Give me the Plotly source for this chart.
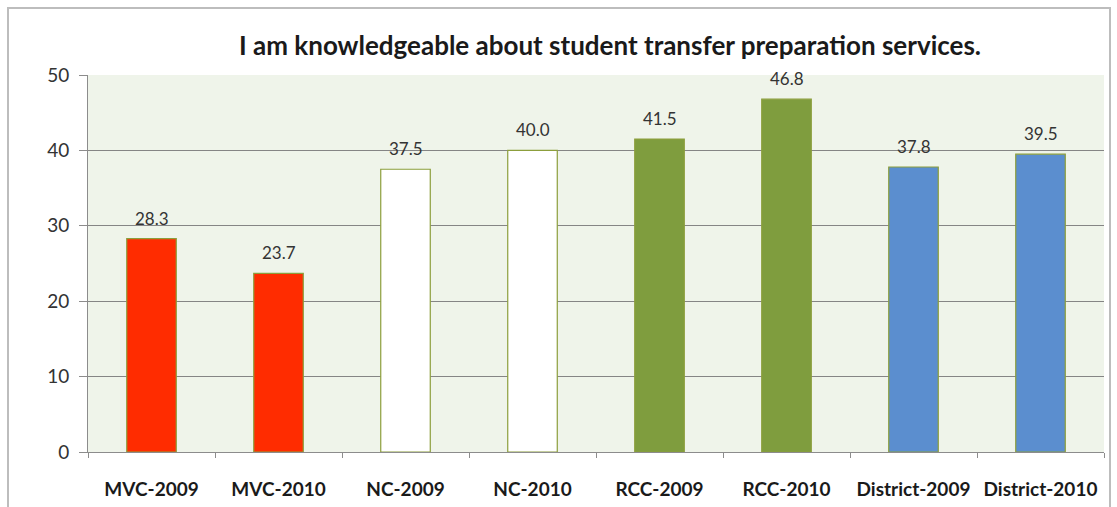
import plotly.graph_objects as go

# Survey results: share of respondents agreeing with the statement
categories = ["MVC-2009", "MVC-2010", "NC-2009", "NC-2010",
              "RCC-2009", "RCC-2010", "District-2009", "District-2010"]
values = [28.3, 23.7, 37.5, 40.0, 41.5, 46.8, 37.8, 39.5]
labels = ["28.3", "23.7", "37.5", "40.0", "41.5", "46.8", "37.8", "39.5"]
bar_colors = ["#FF2C00", "#FF2C00", "#FFFFFF", "#FFFFFF",
              "#7F9D3E", "#7F9D3E", "#5B8ECF", "#5B8ECF"]
title_text = "I am knowledgeable about student transfer preparation services."
y_ticks = [0, 10, 20, 30, 40, 50]

FONT = "Lato, Open Sans, sans-serif"

fig = go.Figure()
fig.add_trace(go.Bar(
    x=categories,
    y=values,
    marker=dict(color=bar_colors, line=dict(color="#8C9E3C", width=1.2)),
    hoverinfo="x+y",
))

# value labels floating above each bar
value_notes = [
    dict(x=c, y=v, text=t, xref="x", yref="y",
         xanchor="center", yanchor="bottom", yshift=8, showarrow=False,
         font=dict(family=FONT, size=17, color="#333333"))
    for c, v, t in zip(categories, values, labels)
]

fig.update_layout(
    width=1117,
    height=507,
    margin=dict(l=88, r=13, t=75, b=55, autoexpand=False),
    paper_bgcolor="#FFFFFF",
    plot_bgcolor="#EFF4EA",
    bargap=0.61,
    showlegend=False,
    font=dict(family=FONT, color="#333333"),
    annotations=value_notes + [dict(
        text="<b>" + title_text + "</b>",
        xref="paper", yref="paper",
        x=(610 - 88) / 1016, y=(452 - 45) / 377,
        xanchor="center", yanchor="middle",
        showarrow=False,
        font=dict(family=FONT, size=26, color="#1A1A1A"),
    )],
    shapes=[dict(
        type="rect", xref="paper", yref="paper",
        x0=(8 - 88) / 1016, x1=(1110 - 88) / 1016,
        y0=(452 - 530) / 377, y1=(452 - 8) / 377,
        line=dict(color="#BDBDBD", width=2),
        fillcolor="rgba(0,0,0,0)", layer="below",
    )],
)

fig.update_xaxes(
    automargin=False,
    showgrid=False,
    showline=True, linecolor="#8C8C8C", linewidth=1,
    ticks="outside", tickson="boundaries", ticklen=5, tickcolor="#8C8C8C",
    ticklabelstandoff=20,
    tickfont=dict(family=FONT, size=19, color="#1A1A1A", weight="bold"),
)
fig.update_yaxes(
    automargin=False,
    range=[0, 50],
    tickvals=y_ticks,
    showgrid=True, gridcolor="#858585", gridwidth=1,
    showline=True, linecolor="#8C8C8C", linewidth=1,
    ticks="outside", ticklen=8, tickcolor="#8C8C8C",
    ticklabelstandoff=6,
    tickfont=dict(family=FONT, size=19, color="#333333"),
    zeroline=False,
)

fig.write_html("out.html")
